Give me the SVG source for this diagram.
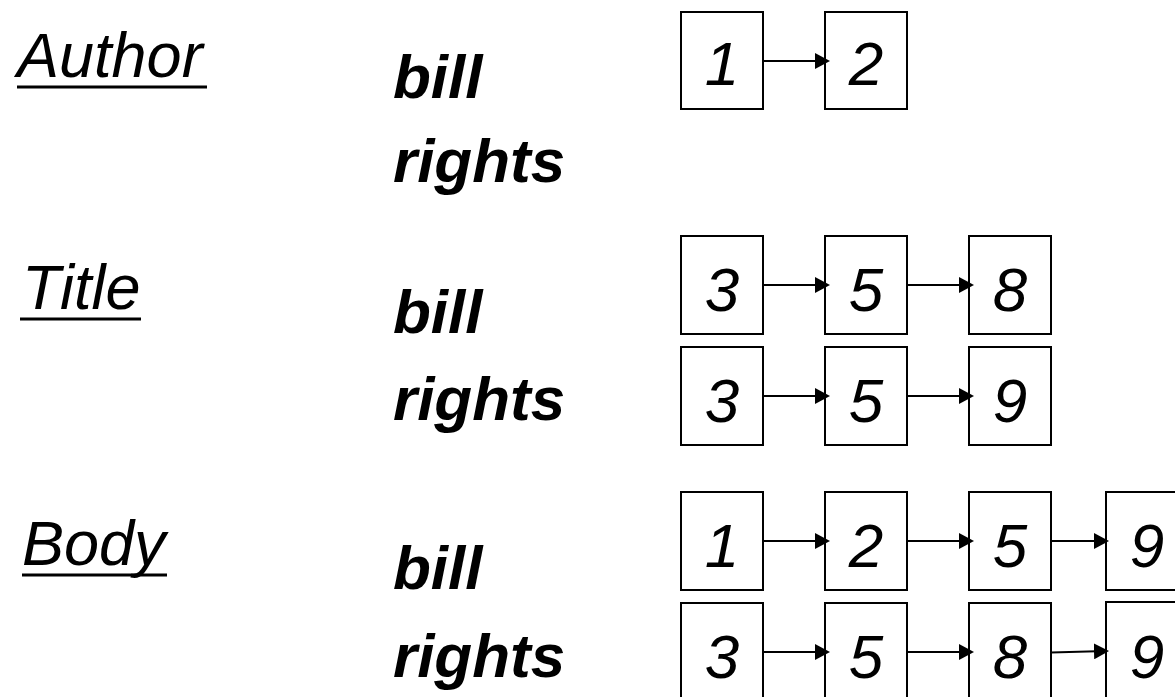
<svg xmlns="http://www.w3.org/2000/svg" width="1175" height="697" viewBox="0 0 1175 697">
  <style>
    .field { font-family: "Liberation Sans", Arial, sans-serif; font-style: italic; font-size: 63px; fill: #000; }
    .term { font-family: "Liberation Sans", Arial, sans-serif; font-style: italic; font-weight: bold; font-size: 62px; fill: #000; }
    .num { font-family: "Liberation Sans", Arial, sans-serif; font-style: italic; font-size: 62px; fill: #000; text-anchor: middle; }
    .uline { stroke: #000; stroke-width: 3; }
    .box { fill: #fff; stroke: #000; stroke-width: 2; }
    .link { stroke: #000; stroke-width: 2; fill: none; marker-end: url(#head); }
  </style>
  <defs>
    <marker id="head" markerUnits="userSpaceOnUse" markerWidth="16" markerHeight="16" refX="12" refY="8" orient="auto">
      <path d="M0,0 L15,8 L0,16 Z" fill="#000"/>
    </marker>
  </defs>
  <rect width="1175" height="697" fill="#fff"/>

  <!-- field names -->
  <g id="field-author">
    <text class="field" x="17" y="77">Author</text>
    <line class="uline" x1="17" y1="87" x2="207" y2="87"/>
  </g>
  <g id="field-title">
    <text class="field" x="22" y="309">Title</text>
    <line class="uline" x1="20" y1="319" x2="141" y2="319"/>
  </g>
  <g id="field-body">
    <text class="field" x="22" y="565">Body</text>
    <line class="uline" x1="22" y1="575" x2="167" y2="575"/>
  </g>

  <!-- terms -->
  <g id="terms-author">
    <text class="term" x="393" y="98">bill</text>
    <text class="term" x="393" y="182">rights</text>
  </g>
  <g id="terms-title">
    <text class="term" x="393" y="333">bill</text>
    <text class="term" x="393" y="420">rights</text>
  </g>
  <g id="terms-body">
    <text class="term" x="393" y="589">bill</text>
    <text class="term" x="393" y="677">rights</text>
  </g>

  <!-- postings: Author / bill -->
  <g id="a-bill-1"><rect class="box" x="681" y="12" width="82" height="97"/><text class="num" x="722" y="85">1</text></g>
  <g id="a-bill-2"><rect class="box" x="825" y="12" width="82" height="97"/><text class="num" x="866" y="85">2</text></g>

  <!-- postings: Title / bill -->
  <g id="t-bill-3"><rect class="box" x="681" y="236" width="82" height="98"/><text class="num" x="722" y="311">3</text></g>
  <g id="t-bill-5"><rect class="box" x="825" y="236" width="82" height="98"/><text class="num" x="866" y="311">5</text></g>
  <g id="t-bill-8"><rect class="box" x="969" y="236" width="82" height="98"/><text class="num" x="1010" y="311">8</text></g>

  <!-- postings: Title / rights -->
  <g id="t-rights-3"><rect class="box" x="681" y="347" width="82" height="98"/><text class="num" x="722" y="422">3</text></g>
  <g id="t-rights-5"><rect class="box" x="825" y="347" width="82" height="98"/><text class="num" x="866" y="422">5</text></g>
  <g id="t-rights-9"><rect class="box" x="969" y="347" width="82" height="98"/><text class="num" x="1010" y="422">9</text></g>

  <!-- postings: Body / bill -->
  <g id="b-bill-1"><rect class="box" x="681" y="492" width="82" height="98"/><text class="num" x="722" y="567">1</text></g>
  <g id="b-bill-2"><rect class="box" x="825" y="492" width="82" height="98"/><text class="num" x="866" y="567">2</text></g>
  <g id="b-bill-5"><rect class="box" x="969" y="492" width="82" height="98"/><text class="num" x="1010" y="567">5</text></g>
  <g id="b-bill-9"><rect class="box" x="1106" y="492" width="82" height="98"/><text class="num" x="1147" y="567">9</text></g>

  <!-- postings: Body / rights -->
  <g id="b-rights-3"><rect class="box" x="681" y="603" width="82" height="98"/><text class="num" x="722" y="678">3</text></g>
  <g id="b-rights-5"><rect class="box" x="825" y="603" width="82" height="98"/><text class="num" x="866" y="678">5</text></g>
  <g id="b-rights-8"><rect class="box" x="969" y="603" width="82" height="98"/><text class="num" x="1010" y="678">8</text></g>
  <g id="b-rights-9"><rect class="box" x="1106" y="602" width="82" height="99"/><text class="num" x="1147" y="678">9</text></g>

  <!-- connectors, drawn last so the arrow tips sit over the box borders -->
  <g id="connectors">
    <line class="link" x1="763" y1="61" x2="827" y2="61"/>

    <line class="link" x1="763" y1="285" x2="827" y2="285"/>
    <line class="link" x1="907" y1="285" x2="971" y2="285"/>
    <line class="link" x1="763" y1="396" x2="827" y2="396"/>
    <line class="link" x1="907" y1="396" x2="971" y2="396"/>

    <line class="link" x1="763" y1="541" x2="827" y2="541"/>
    <line class="link" x1="907" y1="541" x2="971" y2="541"/>
    <line class="link" x1="1051" y1="541" x2="1106" y2="541"/>
    <line class="link" x1="763" y1="652" x2="827" y2="652"/>
    <line class="link" x1="907" y1="652" x2="971" y2="652"/>
    <line class="link" x1="1051" y1="652.5" x2="1106" y2="651"/>
  </g>
</svg>
